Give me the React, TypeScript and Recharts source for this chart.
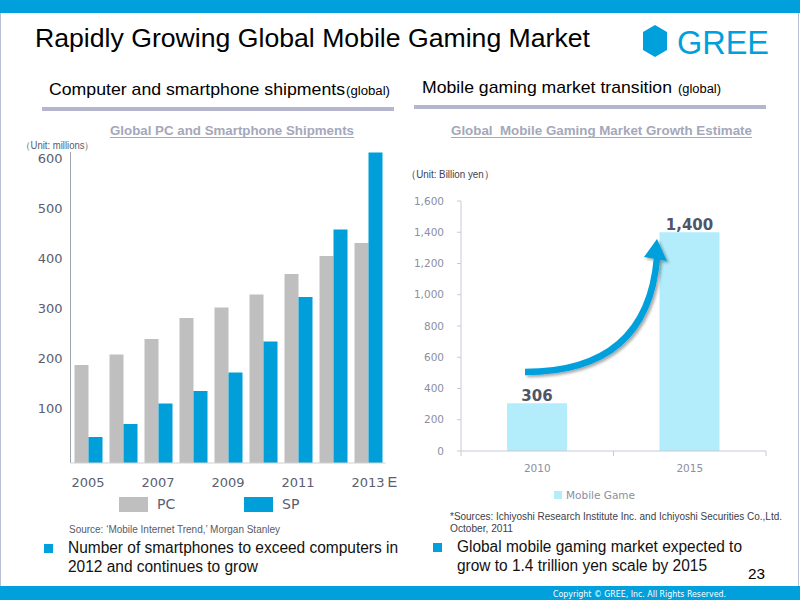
import React from 'react';
import { BarChart, Bar, XAxis, YAxis, Legend, LabelList } from 'recharts';

// ---------- data ----------
const shipmentYears = ['2005', '2006', '2007', '2008', '2009', '2010', '2011', '2012', '2013'];
const pcShipments = [196, 217, 248, 290, 311, 337, 378, 414, 440];
const spShipments = [52, 78, 119, 144, 181, 243, 332, 467, 621];
const shipmentTicks = [100, 200, 300, 400, 500, 600];
const estimateSuffix = 'E';

const marketYears = ['2010', '2015'];
const mobileGameMarket = [306, 1400];
const marketTicks = [0, 200, 400, 600, 800, 1000, 1200, 1400, 1600];

// ---------- styles ----------
const ARIAL = '"Liberation Sans", Arial, Helvetica, sans-serif';
const VERDANA = '"DejaVu Sans", Verdana, sans-serif';
const BLUE = '#00a0dc';
const PC_COLOR = '#bfbfbf';
const SP_COLOR = '#009fda';
const MG_COLOR = '#b3edfb';
const DARK_TICK = '#5a6072';
const LIGHT_TICK = '#8a8fa3';

const shipmentData = shipmentYears.map((year, i) => ({ year, PC: pcShipments[i], SP: spShipments[i] }));
const marketData = marketYears.map((year, i) => ({ year, 'Mobile Game': mobileGameMarket[i] }));

// layout of the right chart (used to derive the category band width)
const R_W = 400;
const R_MARGIN = { top: 201, right: 34, bottom: 39, left: 0 };
const R_YAXIS_W = 61;
const R_PLOT_W = R_W - R_MARGIN.left - R_MARGIN.right - R_YAXIS_W;

function LeftYTick(props: any) {
  const { x, y, payload } = props;
  return (
    <text x={x} y={y - 5} dy="0.355em" textAnchor="end" fontSize={13} fill={DARK_TICK} fontFamily={VERDANA}>
      {payload.value}
    </text>
  );
}

function LeftXTick(props: any) {
  const { x, y, payload } = props;
  const isLast = payload.value === shipmentYears[shipmentYears.length - 1];
  return (
    <g>
      <text x={x} y={y + 19} dy="0.355em" textAnchor="middle" fontSize={13} fill={DARK_TICK} fontFamily={VERDANA}>
        {payload.value}
      </text>
      {isLast && (
        <text x={x + 19.5} y={y + 19} dy="0.355em" textAnchor="start" fontSize={14.5} fill={DARK_TICK} fontFamily={ARIAL}>
          {estimateSuffix}
        </text>
      )}
    </g>
  );
}

function RightXTick(props: any) {
  const { x, y, payload, index } = props;
  const n = marketYears.length;
  const band = R_PLOT_W / n;
  return (
    <g>
      <line x1={x - band / 2} x2={x - band / 2} y1={y} y2={y + 5} stroke="#c6cad4" />
      {index === n - 1 && <line x1={x + band / 2} x2={x + band / 2} y1={y} y2={y + 5} stroke="#c6cad4" />}
      <text x={x} y={y + 17} dy="0.355em" textAnchor="middle" fontSize={10.5} fill={LIGHT_TICK} fontFamily={VERDANA}>
        {payload.value}
      </text>
    </g>
  );
}

function LeftLegendContent(props: any) {
  const { payload = [] } = props;
  return (
    <div style={{ display: 'flex', alignItems: 'center', fontFamily: VERDANA, fontSize: 14, color: DARK_TICK }}>
      {payload.map((item: any) => (
        <div key={item.value} style={{ display: 'flex', alignItems: 'center', width: 125, height: 15 }}>
          <span style={{ display: 'inline-block', width: 29, height: 15, background: item.color, marginRight: 9 }} />
          <span style={{ lineHeight: '15px' }}>{item.value}</span>
        </div>
      ))}
    </div>
  );
}

function RightLegendContent(props: any) {
  const { payload = [] } = props;
  return (
    <div style={{ display: 'flex', alignItems: 'center', fontFamily: VERDANA, fontSize: 10.5, color: LIGHT_TICK }}>
      {payload.map((item: any) => (
        <div key={item.value} style={{ display: 'flex', alignItems: 'center', height: 12 }}>
          <span style={{ display: 'inline-block', width: 8, height: 8, background: item.color, marginRight: 4 }} />
          <span style={{ lineHeight: '12px' }}>{item.value}</span>
        </div>
      ))}
    </div>
  );
}

function ShipmentsChart() {
  return (
    <BarChart
      width={400}
      height={520}
      data={shipmentData}
      margin={{ top: 152, right: 14.5, bottom: 27, left: 0 }}
      barGap={0}
      barSize={14}
    >
      <YAxis
        type="number"
        width={70.5}
        domain={[0, 622]}
        ticks={shipmentTicks}
        allowDataOverflow
        axisLine={{ stroke: '#9ea3b0' }}
        tickLine={false}
        tick={<LeftYTick />}
      />
      <XAxis
        dataKey="year"
        height={30}
        interval={1}
        tickSize={0}
        tickMargin={0}
        axisLine={{ stroke: '#d0d0d0' }}
        tickLine={false}
        tick={<LeftXTick />}
      />
      <Bar dataKey="PC" fill={PC_COLOR} isAnimationActive={false} />
      <Bar dataKey="SP" fill={SP_COLOR} isAnimationActive={false} />
      <Legend
        layout="horizontal"
        verticalAlign="middle"
        align="center"
        content={<LeftLegendContent />}
        wrapperStyle={{ position: 'absolute', left: 119, top: 497, width: 260, height: 15 }}
      />
    </BarChart>
  );
}

function MarketChart() {
  return (
    <BarChart width={R_W} height={520} data={marketData} margin={R_MARGIN} barSize={60}>
      <YAxis
        type="number"
        width={R_YAXIS_W}
        domain={[0, 1600]}
        ticks={marketTicks}
        axisLine={{ stroke: '#c6cad4' }}
        tickLine={{ stroke: '#c6cad4' }}
        tickSize={4}
        tickMargin={13}
        tick={{ fontSize: 10.5, fill: LIGHT_TICK, fontFamily: VERDANA }}
        tickFormatter={(v: number) => v.toLocaleString('en-US')}
      />
      <XAxis
        dataKey="year"
        height={30}
        tickSize={0}
        tickMargin={0}
        axisLine={{ stroke: '#c6cad4' }}
        tickLine={false}
        tick={<RightXTick />}
      />
      <Bar dataKey="Mobile Game" fill={MG_COLOR} isAnimationActive={false}>
        <LabelList
          dataKey="Mobile Game"
          position="top"
          offset={2}
          fill="#4f5568"
          fontSize={15}
          fontWeight="bold"
          fontFamily={VERDANA}
          formatter={(v: any) => Number(v).toLocaleString('en-US')}
        />
      </Bar>
      <Legend
        layout="horizontal"
        verticalAlign="middle"
        align="center"
        content={<RightLegendContent />}
        wrapperStyle={{ position: 'absolute', left: 154, top: 489, width: 120, height: 12 }}
      />
    </BarChart>
  );
}

function SlideOverlay() {
  const fit = { lengthAdjust: 'spacingAndGlyphs' as const };
  return (
    <svg width={800} height={600} style={{ position: 'absolute', left: 0, top: 0, pointerEvents: 'none' }}>
      <defs>
        <filter id="arrowShadow" x="-20%" y="-20%" width="140%" height="140%">
          <feDropShadow dx="2" dy="2" stdDeviation="1.5" floodColor="#000" floodOpacity="0.35" />
        </filter>
      </defs>
      {/* frame */}
      <rect x={0} y={0} width={800} height={13} fill={BLUE} />
      <rect x={0} y={586} width={800} height={14} fill={BLUE} />
      <line x1={0.5} x2={0.5} y1={13} y2={586} stroke="#b8c0d4" />
      <line x1={798.5} x2={798.5} y1={13} y2={586} stroke="#b8c0d4" />

      {/* title */}
      <text x={35} y={47} fontSize={25} fontFamily={ARIAL} fill="#000" textLength={555} {...fit}>
        Rapidly Growing Global Mobile Gaming Market
      </text>
      {/* logo */}
      <polygon points="655,25 667,32 667,50 655,57 643,50 643,32" fill={BLUE} />
      <text x={677} y={54} fontSize={34} fontFamily={ARIAL} fill={BLUE} textLength={92} {...fit}>
        GREE
      </text>

      {/* section headers */}
      <text x={49} y={95} fontSize={17} fontFamily={ARIAL} fill="#000" textLength={296} {...fit}>
        Computer and smartphone shipments
      </text>
      <text x={346} y={95} fontSize={12} fontFamily={ARIAL} fill="#000" textLength={44} {...fit}>
        (global)
      </text>
      <rect x={42} y={107} width={352} height={4} fill="#b5b5cd" />
      <text x={422} y={93} fontSize={17} fontFamily={ARIAL} fill="#000" textLength={250} {...fit}>
        Mobile gaming market transition
      </text>
      <text x={678} y={93} fontSize={12} fontFamily={ARIAL} fill="#000" textLength={43} {...fit}>
        (global)
      </text>
      <rect x={414} y={105} width={352} height={4} fill="#b5b5cd" />

      {/* chart titles */}
      <text x={110} y={135} fontSize={13} fontWeight="bold" fontFamily={ARIAL} fill="#a4a8ba" textLength={244} {...fit}>
        Global PC and Smartphone Shipments
      </text>
      <line x1={110} x2={354} y1={137.5} y2={137.5} stroke="#a4a8ba" />
      <text x={451} y={135} fontSize={13} fontWeight="bold" fontFamily={ARIAL} fill="#a4a8ba" textLength={301} style={{ whiteSpace: 'pre' }} {...fit}>
        Global  Mobile Gaming Market Growth Estimate
      </text>
      <line x1={451} x2={752} y1={137.5} y2={137.5} stroke="#a4a8ba" />

      {/* units */}
      <text x={21} y={149} fontSize={10} fontFamily={ARIAL} fill="#555b6b" textLength={73} {...fit}>
        （Unit: millions）
      </text>
      <text x={406} y={178} fontSize={10.5} fontFamily={ARIAL} fill="#404050" textLength={88} {...fit}>
        （Unit: Billion yen）
      </text>

      {/* growth arrow */}
      <g filter="url(#arrowShadow)">
        <path d="M 525 372 C 600 372, 650 340, 657 258" stroke={BLUE} strokeWidth={6.5} fill="none" />
        <polygon points="657,239 644,257 667,261" fill={BLUE} />
      </g>

      {/* sources and bullets */}
      <text x={69} y={533} fontSize={10} fontFamily={ARIAL} fill="#555b6b" textLength={211} {...fit}>
        Source: ‘Mobile Internet Trend,’ Morgan Stanley
      </text>
      <rect x={44} y={544} width={9} height={9} fill={BLUE} />
      <text x={68} y={553} fontSize={16} fontFamily={ARIAL} fill="#111" textLength={330} {...fit}>
        Number of smartphones to exceed computers in
      </text>
      <text x={68} y={572} fontSize={16} fontFamily={ARIAL} fill="#111" textLength={190} {...fit}>
        2012 and continues to grow
      </text>

      <text x={450} y={520} fontSize={10} fontFamily={ARIAL} fill="#404048" textLength={332} {...fit}>
        *Sources: Ichiyoshi Research Institute Inc. and Ichiyoshi Securities Co.,Ltd.
      </text>
      <text x={450} y={532} fontSize={10} fontFamily={ARIAL} fill="#404048" textLength={63} {...fit}>
        October, 2011
      </text>
      <rect x={433} y={543} width={9} height={9} fill={BLUE} />
      <text x={457} y={552} fontSize={16} fontFamily={ARIAL} fill="#111" textLength={285} {...fit}>
        Global mobile gaming market expected to
      </text>
      <text x={457} y={571} fontSize={16} fontFamily={ARIAL} fill="#111" textLength={250} {...fit}>
        grow to 1.4 trillion yen scale by 2015
      </text>

      <text x={748} y={579} fontSize={14} fontFamily={ARIAL} fill="#000" textLength={17} {...fit}>
        23
      </text>
      <text x={553} y={596.5} fontSize={9} fontFamily={VERDANA} fill="#fff" textLength={173} {...fit}>
        Copyright © GREE, Inc. All Rights Reserved.
      </text>
    </svg>
  );
}

export default function App() {
  return (
    <div style={{ position: 'absolute', left: 0, top: 0, width: 800, height: 600, background: '#fff', overflow: 'hidden' }}>
      <div style={{ position: 'absolute', left: 0, top: 0 }}>
        <ShipmentsChart />
      </div>
      <div style={{ position: 'absolute', left: 400, top: 0 }}>
        <MarketChart />
      </div>
      <SlideOverlay />
    </div>
  );
}
